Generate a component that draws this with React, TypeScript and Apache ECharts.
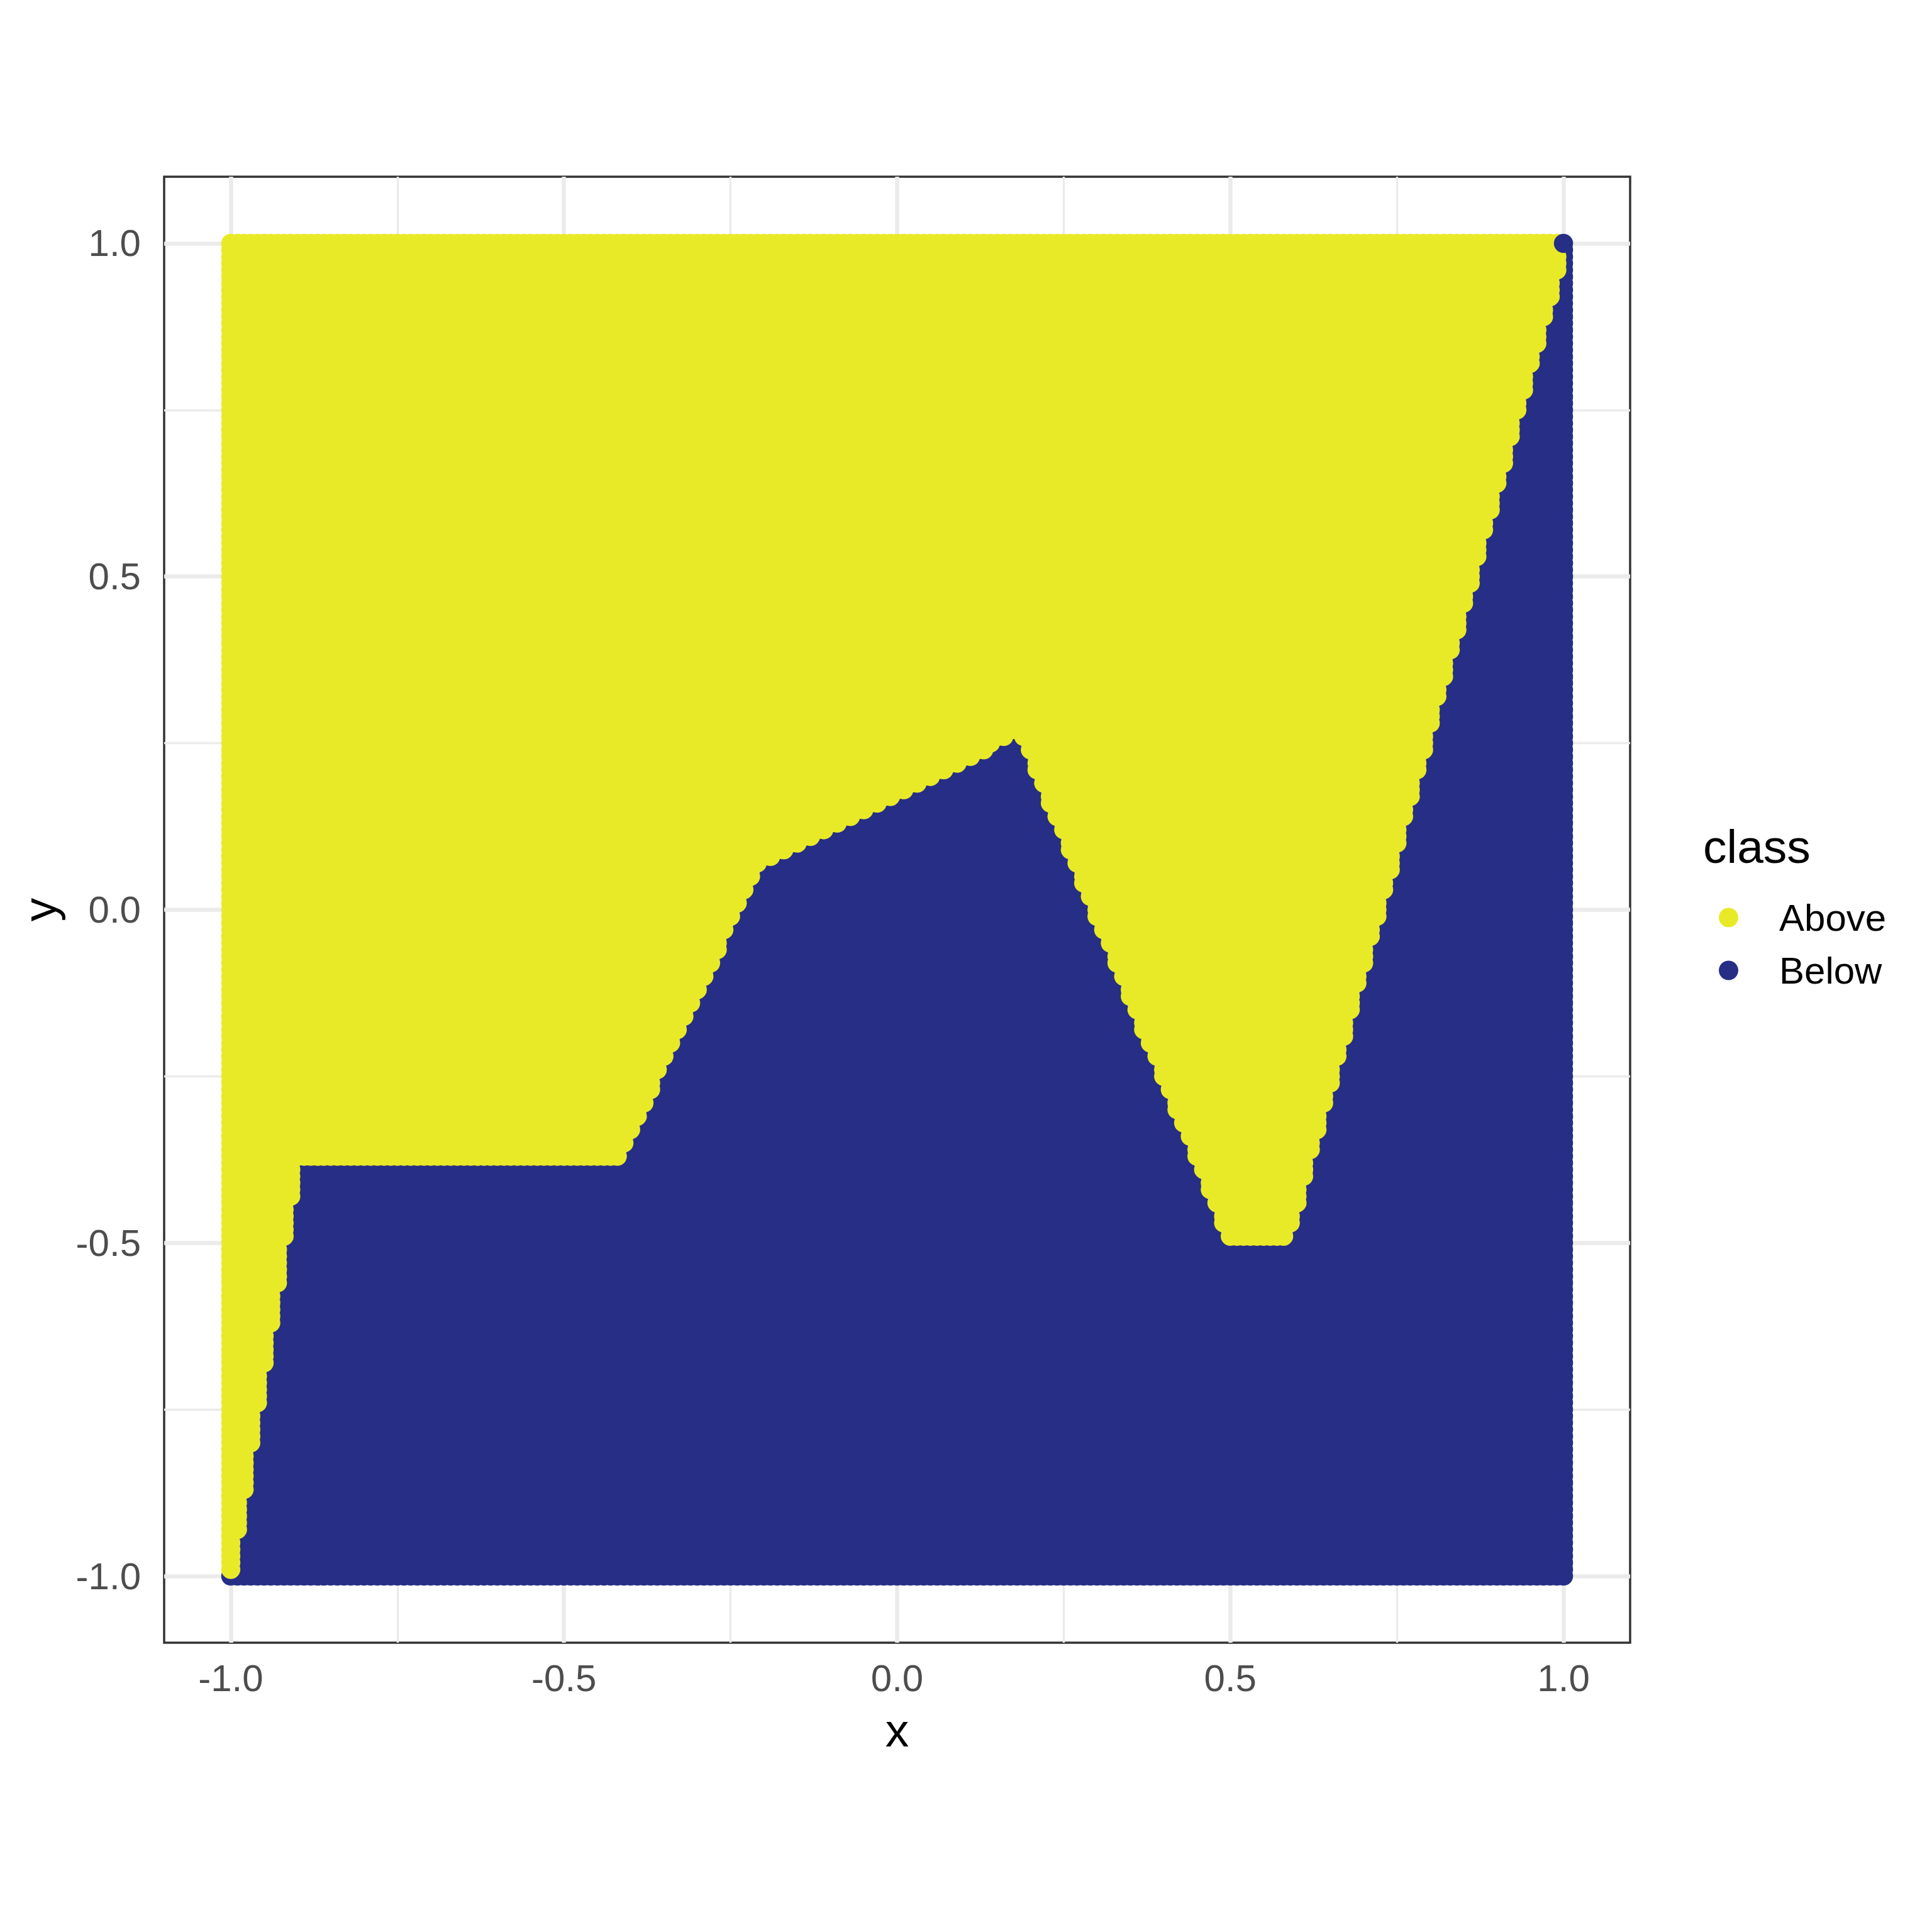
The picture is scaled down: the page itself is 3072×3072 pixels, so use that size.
import React, { useEffect, useRef } from "react";
import * as echarts from "echarts";

// ---- data ----
const gridMin = -1;
const gridMax = 1;
const gridStep = 0.01;
// piecewise-linear class boundary (points with y <= boundary are "Below")
const boundaryX = [-1.0, -0.9, -0.42, -0.21, 0.185, 0.5, 0.585, 0.99, 1.0];
const boundaryY = [-0.995, -0.375, -0.375, 0.065, 0.268, -0.495, -0.495, 0.955, 1.005];
const classNames = ["Above", "Below"];
const classColors = ["#E9EA27", "#262E86"];
const majorTicks = [-1, -0.5, 0, 0.5, 1];
const minorTicks = [-0.75, -0.25, 0.25, 0.75];
const axisRange = [-1.1, 1.1];

const FONT = "Liberation Sans, Arial, Helvetica, sans-serif";

function boundaryAt(x: number): number {
  for (let k = 0; k < boundaryX.length - 1; k++) {
    const x0 = boundaryX[k];
    const x1 = boundaryX[k + 1];
    if (x >= x0 - 1e-9 && x <= x1 + 1e-9) {
      const t = (x - x0) / (x1 - x0);
      return boundaryY[k] + t * (boundaryY[k + 1] - boundaryY[k]);
    }
  }
  return boundaryY[boundaryY.length - 1];
}

// points are drawn row by row (y increasing), so the last row sits on top of everything
function buildPoints() {
  const n = Math.round((gridMax - gridMin) / gridStep) + 1;
  const above: number[][] = [];
  const below: number[][] = [];
  const belowLastRow: number[][] = [];
  for (let j = 0; j < n; j++) {
    const y = Math.round((gridMin + j * gridStep) * 100) / 100;
    for (let i = 0; i < n; i++) {
      const x = Math.round((gridMin + i * gridStep) * 100) / 100;
      if (y <= boundaryAt(x)) {
        if (j === n - 1) belowLastRow.push([x, y]);
        else below.push([x, y]);
      } else above.push([x, y]);
    }
  }
  return { above, below, belowLastRow };
}

export default function App() {
  const ref = useRef<HTMLDivElement>(null);
  useEffect(() => {
    document.body.style.margin = "0";
    if (!ref.current) return;
    const chart = echarts.init(ref.current, undefined, { renderer: "svg" });
    const { above, below, belowLastRow } = buildPoints();
    const gridLeft = 261;
    const gridTop = 281;
    const gridW = 2331;
    const gridH = 2331;
    const tickLine = { color: "#333333", width: 5 };
    const labelStyle = { fontFamily: FONT, fontSize: 60, color: "#4D4D4D" };
    const fmt = (v: number) => v.toFixed(1);
    const pointSeries = (name: string, color: string, data: number[][]) => ({
      name,
      type: "scatter",
      xAxisIndex: 0,
      yAxisIndex: 0,
      data,
      symbol: "circle",
      symbolSize: 30.6,
      large: true,
      largeThreshold: 2000,
      progressive: 0,
      clip: false,
      itemStyle: { color, opacity: 1 },
    });
    chart.setOption({
      animation: false,
      backgroundColor: "#FFFFFF",
      grid: {
        left: gridLeft,
        top: gridTop,
        width: gridW,
        height: gridH,
        show: true,
        backgroundColor: "transparent",
        borderColor: "#333333",
        borderWidth: 3.5,
      },
      xAxis: [
        {
          type: "value",
          min: axisRange[0],
          max: axisRange[1],
          position: "bottom",
          name: "x",
          nameLocation: "middle",
          nameGap: 139,
          nameTextStyle: { fontFamily: FONT, fontSize: 75, color: "#000000", verticalAlign: "middle" },
          axisLine: { show: false },
          axisTick: { show: true, length: 19, customValues: majorTicks, lineStyle: tickLine },
          axisLabel: {
            customValues: majorTicks,
            formatter: fmt,
            margin: 56,
            verticalAlign: "middle",
            ...labelStyle,
          },
          splitLine: { show: true, lineStyle: { color: "#EBEBEB", width: 6.5 } },
        },
        {
          type: "value",
          min: axisRange[0],
          max: axisRange[1],
          position: "top",
          axisLine: { show: false },
          axisTick: { show: false, customValues: minorTicks },
          axisLabel: { show: false, customValues: minorTicks },
          splitLine: { show: true, lineStyle: { color: "#EBEBEB", width: 3.3 } },
        },
      ],
      yAxis: [
        {
          type: "value",
          min: axisRange[0],
          max: axisRange[1],
          position: "left",
          name: "y",
          nameLocation: "middle",
          nameGap: 198,
          nameRotate: 90,
          nameTextStyle: { fontFamily: FONT, fontSize: 75, color: "#000000", verticalAlign: "middle" },
          axisLine: { show: false },
          axisTick: { show: true, length: 19, customValues: majorTicks, lineStyle: tickLine },
          axisLabel: {
            customValues: majorTicks,
            formatter: fmt,
            margin: 37,
            ...labelStyle,
          },
          splitLine: { show: true, lineStyle: { color: "#EBEBEB", width: 6.5 } },
        },
        {
          type: "value",
          min: axisRange[0],
          max: axisRange[1],
          position: "right",
          axisLine: { show: false },
          axisTick: { show: false, customValues: minorTicks },
          axisLabel: { show: false, customValues: minorTicks },
          splitLine: { show: true, lineStyle: { color: "#EBEBEB", width: 3.3 } },
        },
      ],
      legend: {
        data: classNames,
        orient: "vertical",
        left: 2733,
        top: 1429,
        padding: 0,
        itemWidth: 31,
        itemHeight: 31,
        itemGap: 24,
        icon: "circle",
        textStyle: {
          fontFamily: FONT,
          fontSize: 60,
          lineHeight: 60,
          color: "#000000",
          padding: [0, 0, 0, 60],
        },
      },
      graphic: [
        {
          type: "text",
          x: 2708,
          y: 1346,
          style: {
            text: "class",
            fontFamily: FONT,
            fontSize: 75,
            fill: "#000000",
            verticalAlign: "middle",
            align: "left",
          },
        },
      ],
      series: [
        pointSeries(classNames[1], classColors[1], below),
        pointSeries(classNames[0], classColors[0], above),
        pointSeries(classNames[1], classColors[1], belowLastRow),
      ],
    });
    return () => chart.dispose();
  }, []);
  return <div ref={ref} style={{ width: 3072, height: 3072 }} />;
}
